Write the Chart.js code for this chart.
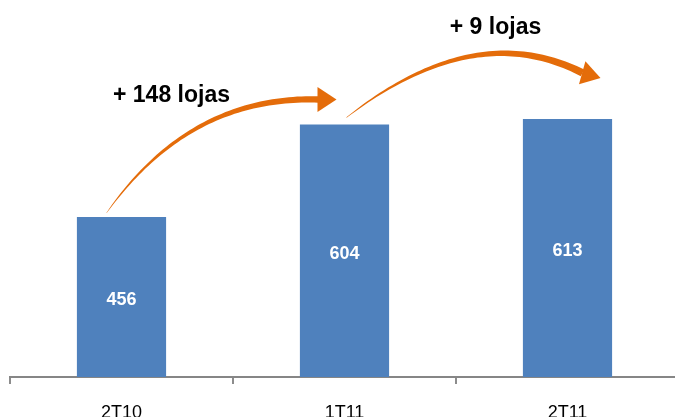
<!DOCTYPE html>
<html>
<head>
<meta charset="utf-8">
<script src="https://cdn.jsdelivr.net/npm/chart.js@4/dist/chart.umd.min.js"></script>
<style>
html,body{margin:0;padding:0;background:#fff;overflow:hidden;}
#wrap{width:675px;height:417px;overflow:hidden;position:relative;}
canvas{display:block;}
</style>
</head>
<body>
<div id="wrap"><canvas id="c" width="690" height="440"></canvas></div>
<script>
const categories = ["2T10", "1T11", "2T11"];
const storeCounts = [456, 604, 613];
const growthLabels = ["+ 148 lojas", "+ 9 lojas"];

const FONT = "'Liberation Sans', Arial, sans-serif";
const ORANGE = "#E46C0A";

function taperedArrow(ctx, p0, p1, p2, w0, w1, tip, headLen, headHalf) {
  const N = 60;
  const left = [], right = [];
  for (let i = 0; i <= N; i++) {
    const t = i / N;
    const x = (1-t)*(1-t)*p0[0] + 2*(1-t)*t*p1[0] + t*t*p2[0];
    const y = (1-t)*(1-t)*p0[1] + 2*(1-t)*t*p1[1] + t*t*p2[1];
    let dx = 2*(1-t)*(p1[0]-p0[0]) + 2*t*(p2[0]-p1[0]);
    let dy = 2*(1-t)*(p1[1]-p0[1]) + 2*t*(p2[1]-p1[1]);
    const L = Math.hypot(dx, dy); dx /= L; dy /= L;
    const w = (w0 + (w1 - w0) * Math.pow(t, 0.75)) / 2;
    left.push([x - dy*w, y + dx*w]);
    right.push([x + dy*w, y - dx*w]);
  }
  ctx.beginPath();
  ctx.moveTo(left[0][0], left[0][1]);
  left.forEach(p => ctx.lineTo(p[0], p[1]));
  for (let i = right.length - 1; i >= 0; i--) ctx.lineTo(right[i][0], right[i][1]);
  ctx.closePath();
  ctx.fill();
  let dx = tip[0] - p2[0], dy = tip[1] - p2[1];
  const L = Math.hypot(dx, dy); dx /= L; dy /= L;
  const bx = tip[0] - dx*headLen, by = tip[1] - dy*headLen;
  ctx.beginPath();
  ctx.moveTo(tip[0], tip[1]);
  ctx.lineTo(bx - dy*headHalf, by + dx*headHalf);
  ctx.lineTo(bx + dy*headHalf, by - dx*headHalf);
  ctx.closePath();
  ctx.fill();
}

const overlay = {
  id: 'overlay',
  afterDatasetsDraw(chart) {
    const ctx = chart.ctx;
    const bars = chart.getDatasetMeta(0).data;
    const bottom = chart.chartArea.bottom;
    ctx.save();
    ctx.fillStyle = '#ffffff';
    ctx.font = "bold 18px " + FONT;
    ctx.textAlign = 'center';
    ctx.textBaseline = 'middle';
    bars.forEach((b, i) => {
      ctx.fillText(String(storeCounts[i]), b.x, (b.y + bottom) / 2 + 3);
    });
    ctx.fillStyle = ORANGE;
    const b0 = bars[0], b1 = bars[1], b2 = bars[2];
    taperedArrow(ctx,
      [b0.x - 15, b0.y - 4], [b0.x + 68, b1.y - 29], [b1.x - 26, b1.y - 25],
      0.4, 6.5, [b1.x - 8, b1.y - 25], 19, 12.5);
    taperedArrow(ctx,
      [b1.x + 2, b1.y - 7], [b1.x + 130, b2.y - 101], [b2.x + 15, b2.y - 46],
      0.4, 7.5, [b2.x + 33, b2.y - 41], 19, 12);
    ctx.fillStyle = '#000000';
    ctx.font = "bold 23px " + FONT;
    ctx.textAlign = 'center';
    ctx.textBaseline = 'alphabetic';
    ctx.fillText(growthLabels[0], b0.x + 50, b1.y - 23);
    ctx.fillText(growthLabels[1], b2.x - 72, b2.y - 85);
    ctx.restore();
  }
};

new Chart(document.getElementById('c'), {
  type: 'bar',
  data: {
    labels: categories,
    datasets: [{
      data: storeCounts,
      backgroundColor: '#4F81BD',
      borderWidth: 0,
      categoryPercentage: 1.0,
      barPercentage: 0.4
    }]
  },
  options: {
    responsive: false,
    animation: false,
    devicePixelRatio: 1,
    layout: { padding: { left: 10, right: 11, top: 2, bottom: 0 } },
    plugins: { legend: { display: false }, tooltip: { enabled: false } },
    scales: {
      x: {
        offset: true,
        grid: { display: true, drawOnChartArea: false, drawTicks: true, tickLength: 7, color: '#8c8c8c', lineWidth: 2, offset: true },
        border: { display: true, color: '#868686', width: 2 },
        ticks: { color: '#000000', font: { family: FONT, size: 18 }, padding: 18, maxRotation: 0 },
        afterFit(scale) { scale.height = 63; }
      },
      y: {
        display: false,
        min: 200,
        max: 800
      }
    }
  },
  plugins: [overlay]
});
</script>
</body>
</html>
